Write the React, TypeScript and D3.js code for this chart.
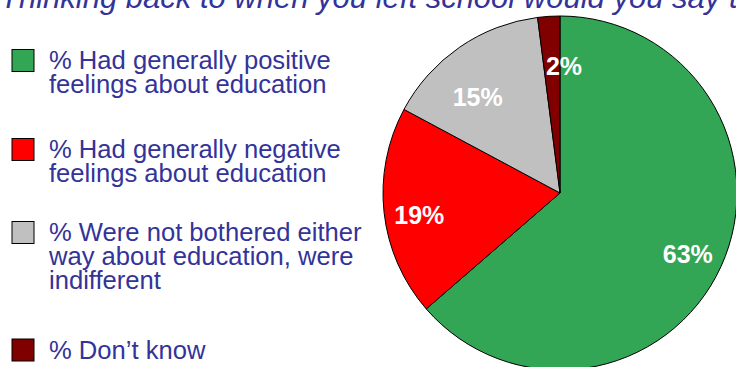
import React from "react";
import * as d3 from "d3";

const categories = [
  "% Had generally positive feelings about education",
  "% Had generally negative feelings about education",
  "% Were not bothered either way about education, were indifferent",
  "% Don’t know",
];
const values = [63, 19, 15, 2];
const legendLines = [
  ["% Had generally positive", "feelings about education"],
  ["% Had generally negative", "feelings about education"],
  ["% Were not bothered either", "way about education, were", "indifferent"],
  ["% Don’t know"],
];
const title = "Thinking back to when you left school would you say that you...";

// styling / layout (not data)
const colors = ["#33a655", "#ff0000", "#c0c0c0", "#800000"];
const labelNudge: [number, number][] = [
  [-1, 2],
  [0, 6],
  [-2, 21],
  [13, 14],
];
const legendTops = [49.5, 138.5, 221.5, 339];
const textColor = "#333399";

export default function App() {
  const W = 736;
  const H = 367;
  const cx = 560;
  const cy = 193;
  const r = 177;

  const pie = d3.pie<number>().sort(null).value((d) => d);
  const arcs = pie(values);
  const arc = d3.arc<d3.PieArcDatum<number>>().innerRadius(0).outerRadius(r);
  const labelArc = d3
    .arc<d3.PieArcDatum<number>>()
    .innerRadius(r * 0.8)
    .outerRadius(r * 0.8);
  const fontSize = 25;

  return (
    <div style={{ position: "fixed", left: 0, top: 0, width: W, height: H, overflow: "hidden", background: "#fff" }}>
      <svg width={W} height={H} style={{ display: "block" }} fontFamily="'Liberation Sans', Arial, sans-serif">
        <rect x={0} y={0} width={W} height={H} fill="#ffffff" />
        <text x={0} y={8} fontSize={31} fontStyle="italic" fill={textColor}>
          {title}
        </text>
        <g transform={`translate(${cx},${cy})`}>
          {arcs.map((a, i) => (
            <path key={i} d={arc(a) || ""} fill={colors[i]} stroke="#000" strokeWidth={1} strokeLinejoin="round" />
          ))}
          {arcs.map((a, i) => {
            const [lx, ly] = labelArc.centroid(a);
            return (
              <text
                key={"l" + i}
                x={lx + labelNudge[i][0]}
                y={ly + labelNudge[i][1] + fontSize * 0.358}
                textAnchor="middle"
                fontSize={fontSize}
                fontWeight="bold"
                fill="#ffffff"
              >
                {values[i] + "%"}
              </text>
            );
          })}
        </g>
        {categories.map((c, i) => (
          <g key={"lg" + i}>
            <title>{c}</title>
            <rect x={12} y={legendTops[i]} width={22} height={22} fill={colors[i]} stroke="#000" strokeWidth={1} />
            {legendLines[i].map((line, j) => (
              <text key={j} x={49} y={legendTops[i] + 19.5 + j * 24} fontSize={25.6} fill={textColor}>
                {line}
              </text>
            ))}
          </g>
        ))}
      </svg>
    </div>
  );
}
